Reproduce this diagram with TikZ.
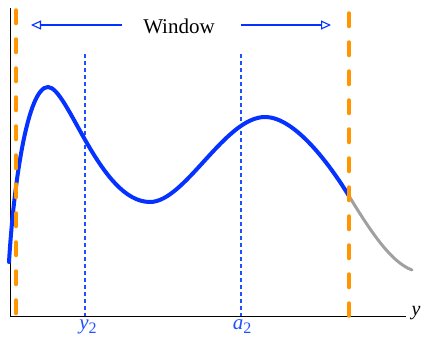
\documentclass[tikz,border=0pt]{standalone}
\usepackage{fontspec}
\setmainfont{Liberation Serif}
\usetikzlibrary{arrows.meta}
\definecolor{curveblue}{RGB}{5,50,255}
\definecolor{winorange}{RGB}{255,150,0}
\definecolor{tailgray}{RGB}{160,160,160}
\definecolor{labblue}{RGB}{30,80,255}
\newcommand{\sublab}[2]{\textit{#1}\raisebox{-4pt}{\fontsize{16}{18}\selectfont #2}}
\begin{document}
\begin{tikzpicture}[x=1pt, y=-1pt,
  winline/.style={winorange, line width=3.5pt, line cap=round, dash pattern=on 13.5pt off 15.5pt},
  markline/.style={labblue, line width=1.1pt, dash pattern=on 4pt off 3pt},
  winarrow/.style={curveblue, line width=1.1pt, -{Triangle[open, length=10pt, width=9pt]}},
  lab/.style={text=labblue, font=\fontsize{21}{25}\selectfont, inner sep=0pt}]
\useasboundingbox (0,0) rectangle (421,338);

% axes
\coordinate (top) at (10,8);
\coordinate (O) at (10,316);
\coordinate (xend) at (406,316);
\node[font=\fontsize{20}{24}\selectfont\itshape, inner sep=0pt] (ylab) at (416,313) {y};
\draw[line width=1pt] (top) -- (O) -- (xend);

% window
\node[font=\fontsize{21}{25}\selectfont, inner sep=0pt] (win) at (179,26) {Window};
\coordinate (wl) at (31,25);
\coordinate (wr) at (331,25);
\draw[winarrow] ([xshift=-21pt]win.west |- wl) -- (wl);
\draw[winarrow] ([xshift=26pt]win.east |- wr) -- (wr);

% marks
\coordinate (y2top) at (85,54);
\coordinate (a2top) at (241,54);
\draw[markline] (y2top) -- (y2top |- O);
\draw[markline] (a2top) -- (a2top |- O);
\node[lab] (y2) at (88,327) {\sublab{y}{2}};
\node[lab] (a2) at (242,327) {\sublab{a}{2}};

% curve
\draw[tailgray, line width=3pt, line cap=round] (349,196) .. controls (368,227) and (390,262) .. (412,270);
\draw[curveblue, line width=4pt, line cap=round] (9,262)
  .. controls (14,180) and (28,87) .. (48,87)
  .. controls (68,87) and (100,202) .. (150,202)
  .. controls (185,202) and (225,117) .. (265,117)
  .. controls (295,117) and (330,165) .. (349,196);

% window edges
\draw[winline] (16,10) -- (16,316);
\draw[winline] (349,13) -- (349,316);
\end{tikzpicture}
\end{document}
